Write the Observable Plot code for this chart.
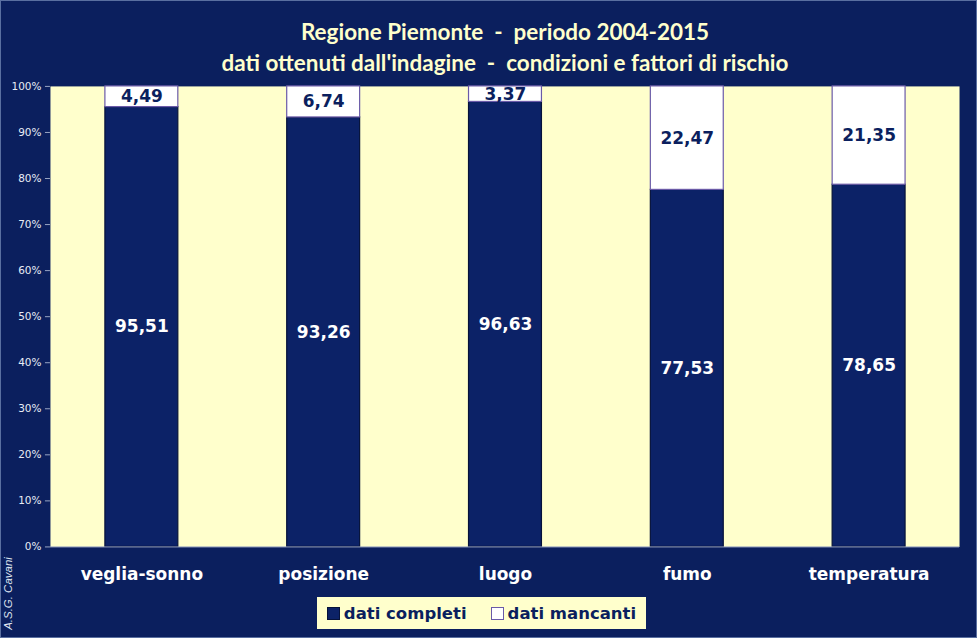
<!DOCTYPE html>
<html>
<head>
<meta charset="utf-8">
<script src="https://cdn.jsdelivr.net/npm/d3@7"></script>
<script src="https://cdn.jsdelivr.net/npm/@observablehq/plot@0.6"></script>
<style>
  html, body { margin: 0; padding: 0; background: #0b1f5e; }
  #wrap { position: relative; width: 977px; height: 638px; background: #0b1f5e; box-sizing: border-box; border: 1px solid #5a6fa0; overflow: hidden; }
  #chart { position: absolute; left: -1px; top: -1px; }
  #legend { position: absolute; left: 316px; top: 596px; width: 329px; height: 32px; background: #ffffcc;
    font-family: "DejaVu Sans", Verdana, sans-serif; font-weight: bold; font-size: 16.5px; color: #0b1f5e;
    display: flex; align-items: center; justify-content: center; gap: 24px; }
  #legend span.item { display: flex; align-items: center; gap: 4px; }
  #legend span.sw { display: inline-block; width: 13px; height: 13px; box-sizing: border-box; }
</style>
</head>
<body>
<div id="wrap">
  <div id="chart"></div>
  <div id="legend"></div>
</div>
<script>
const categories = ["veglia-sonno", "posizione", "luogo", "fumo", "temperatura"];
const completi = [95.51, 93.26, 96.63, 77.53, 78.65];
const mancanti = [4.49, 6.74, 3.37, 22.47, 21.35];
const seriesNames = ["dati completi", "dati mancanti"];
const yTicks = [0, 10, 20, 30, 40, 50, 60, 70, 80, 90, 100];
const titleLines = ["Regione Piemonte  -  periodo 2004-2015", "dati ottenuti dall'indagine  -  condizioni e fattori di rischio"];
const credit = "A.S.G. Cavani";

const colors = { [seriesNames[0]]: "#0c2267", [seriesNames[1]]: "#ffffff" };

const data = [];
categories.forEach((c, i) => {
  data.push({ cat: c, series: seriesNames[0], value: completi[i] });
  data.push({ cat: c, series: seriesNames[1], value: mancanti[i] });
});
const fmt = v => v.toFixed(2).replace(".", ",");

const font = "'DejaVu Sans', Verdana, sans-serif";
const titleFont = "Lato, 'Open Sans', sans-serif";

const plot = Plot.plot({
  width: 977,
  height: 638,
  marginTop: 86,
  marginLeft: 50,
  marginRight: 17,
  marginBottom: 91,
  style: { background: "transparent", fontFamily: font },
  x: { domain: categories, paddingInner: 0.6, paddingOuter: 0.3, label: null },
  y: { domain: [0, 100], label: null },
  color: { domain: seriesNames, range: seriesNames.map(s => colors[s]) },
  marks: [
    Plot.frame({ fill: "#ffffcc", stroke: null }),
    Plot.barY(data, Plot.stackY({
      x: "cat", y: "value", z: "series", order: seriesNames,
      fill: "series",
      stroke: d => d.series === seriesNames[0] ? "#06123a" : "#6a5aa8",
      strokeWidth: 1.2
    })),
    Plot.text(data, Plot.stackY({
      x: "cat", y: "value", z: "series", order: seriesNames,
      text: d => fmt(d.value),
      fill: d => d.series === seriesNames[0] ? "#ffffff" : "#0b1f5e",
      fontSize: 17, fontWeight: "bold", fontFamily: font
    })),
    Plot.axisY({
      ticks: yTicks, tickFormat: d => d + "%", tickSize: 5, tickPadding: 4,
      stroke: "#9aa6c4", fill: "#e8ecf5", fontSize: 10.5, fontFamily: font
    }),
    Plot.ruleX([0], { stroke: "#9aa6c4" }),
    Plot.ruleY([0], { stroke: "#9aa6c4" }),
    Plot.axisX({
      tickSize: 0, tickPadding: 21, fill: "#ffffff", fontSize: 17, fontWeight: "bold", fontFamily: font
    }),
    Plot.text([titleLines[0]], {
      frameAnchor: "top", dy: -62, text: d => d, fill: "#ffffcc", fontSize: 22.5,
      fontWeight: "bold", fontFamily: titleFont
    }),
    Plot.text([titleLines[1]], {
      frameAnchor: "top", dy: -31, text: d => d, fill: "#ffffcc", fontSize: 22.5,
      fontWeight: "bold", fontFamily: titleFont
    }),
    Plot.text([credit], {
      frameAnchor: "bottom-left", dx: -38, dy: 83, rotate: -90, text: d => d,
      fill: "#dfe4f0", fontSize: 11.5, fontStyle: "italic", fontFamily: "'Liberation Sans', Arial, sans-serif"
    })
  ]
});
document.getElementById("chart").appendChild(plot);

const legend = document.getElementById("legend");
seriesNames.forEach(s => {
  const item = document.createElement("span");
  item.className = "item";
  const sw = document.createElement("span");
  sw.className = "sw";
  sw.style.background = colors[s];
  sw.style.border = s === seriesNames[0] ? "1px solid #06123a" : "1.5px solid #6a5aa8";
  item.appendChild(sw);
  const t = document.createElement("span");
  t.textContent = s;
  item.appendChild(t);
  legend.appendChild(item);
});
</script>
</body>
</html>
